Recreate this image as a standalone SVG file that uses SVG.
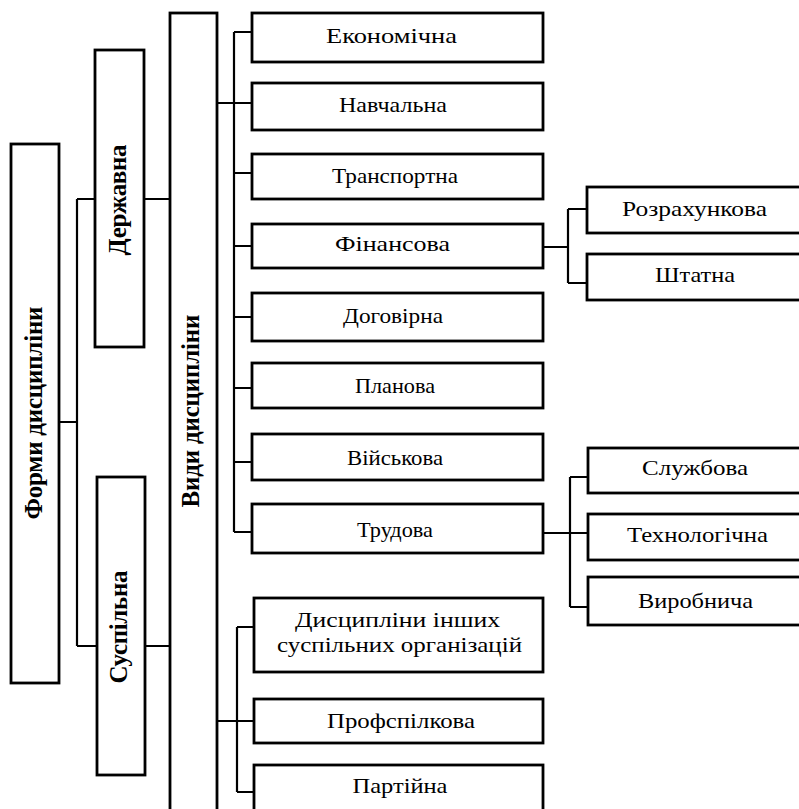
<svg xmlns="http://www.w3.org/2000/svg" width="799" height="809" viewBox="0 0 799 809">
<style>
.box{fill:#fff;stroke:#000;stroke-width:2.8}
.lbl{font-family:"Liberation Serif","Times New Roman",serif;font-size:21px;fill:#000;text-anchor:middle}
.vlbl{font-family:"Liberation Serif","Times New Roman",serif;font-size:25px;font-weight:bold;fill:#000;text-anchor:middle}
.con{fill:none;stroke:#000;stroke-width:2.2}
</style>
<rect width="799" height="809" fill="#fff"/>
<g id="connectors">
<path class="con" d="M59,422H77M77,199V646M77,199H95M77,646H97"/>
<path class="con" d="M144,199H170M145,646H170"/>
<path class="con" d="M217,103H234M234,32V532M234,32H252M234,103H252M234,173H252M234,246H252M234,317H252M234,388H252M234,462H252M234,532H252"/>
<path class="con" d="M217,721H237M237,627V792M237,627H254M237,721H254M237,792H254"/>
<path class="con" d="M543,247H568M568,209V283M568,209H587M568,283H587"/>
<path class="con" d="M543,533H570M570,477V607M570,477H588M570,533H588M570,607H588"/>
</g>
<g id="formy"><rect class="box" x="11" y="144" width="48" height="539"/><text class="vlbl" transform="translate(42,413) rotate(-90)" textLength="213">Форми дисципліни</text></g>
<g id="derzhavna"><rect class="box" x="95" y="50" width="49" height="297"/><text class="vlbl" transform="translate(126,200) rotate(-90)" textLength="111">Державна</text></g>
<g id="suspilna"><rect class="box" x="97" y="477" width="48" height="298"/><text class="vlbl" transform="translate(127,627) rotate(-90)" textLength="113">Суспільна</text></g>
<g id="vydy"><rect class="box" x="170" y="13" width="47" height="810"/><text class="vlbl" transform="translate(199,411) rotate(-90)" textLength="193">Види дисципліни</text></g>
<g id="ekonomichna"><rect class="box" x="252" y="13" width="291" height="49"/><text class="lbl" x="391.5" y="43" textLength="131" lengthAdjust="spacingAndGlyphs">Економічна</text></g>
<g id="navchalna"><rect class="box" x="252" y="83" width="291" height="47"/><text class="lbl" x="393" y="112" textLength="108" lengthAdjust="spacingAndGlyphs">Навчальна</text></g>
<g id="transportna"><rect class="box" x="252" y="154" width="291" height="45"/><text class="lbl" x="395" y="183" textLength="126" lengthAdjust="spacingAndGlyphs">Транспортна</text></g>
<g id="finansova"><rect class="box" x="252" y="224" width="291" height="44"/><text class="lbl" x="392.5" y="251" textLength="115" lengthAdjust="spacingAndGlyphs">Фінансова</text></g>
<g id="dogovirna"><rect class="box" x="252" y="293" width="291" height="48"/><text class="lbl" x="393" y="323" textLength="100" lengthAdjust="spacingAndGlyphs">Договірна</text></g>
<g id="planova"><rect class="box" x="252" y="363" width="291" height="45"/><text class="lbl" x="395" y="393" textLength="80" lengthAdjust="spacingAndGlyphs">Планова</text></g>
<g id="viyskova"><rect class="box" x="252" y="434" width="291" height="46"/><text class="lbl" x="395" y="465" textLength="96" lengthAdjust="spacingAndGlyphs">Військова</text></g>
<g id="trudova"><rect class="box" x="252" y="504" width="291" height="49"/><text class="lbl" x="395" y="537" textLength="76" lengthAdjust="spacingAndGlyphs">Трудова</text></g>
<g id="inshi"><rect class="box" x="254" y="598" width="289" height="74"/><text class="lbl" x="397.5" y="627" textLength="205" lengthAdjust="spacingAndGlyphs">Дисципліни інших</text><text class="lbl" x="399.5" y="652" textLength="245" lengthAdjust="spacingAndGlyphs">суспільних організацій</text></g>
<g id="profspilkova"><rect class="box" x="254" y="699" width="289" height="44"/><text class="lbl" x="401" y="728" textLength="148" lengthAdjust="spacingAndGlyphs">Профспілкова</text></g>
<g id="partiyna"><rect class="box" x="254" y="765" width="289" height="60"/><text class="lbl" x="400" y="793" textLength="95" lengthAdjust="spacingAndGlyphs">Партійна</text></g>
<g id="rozrakhunkova"><rect class="box" x="587" y="187" width="215" height="46"/><text class="lbl" x="694.5" y="216" textLength="145" lengthAdjust="spacingAndGlyphs">Розрахункова</text></g>
<g id="shtatna"><rect class="box" x="587" y="254" width="215" height="46"/><text class="lbl" x="695" y="282" textLength="80" lengthAdjust="spacingAndGlyphs">Штатна</text></g>
<g id="sluzhbova"><rect class="box" x="588" y="448" width="214" height="45"/><text class="lbl" x="695" y="475" textLength="106" lengthAdjust="spacingAndGlyphs">Службова</text></g>
<g id="tekhnologichna"><rect class="box" x="588" y="514" width="214" height="46"/><text class="lbl" x="697.5" y="542" textLength="141" lengthAdjust="spacingAndGlyphs">Технологічна</text></g>
<g id="vyrobnycha"><rect class="box" x="588" y="577" width="214" height="48"/><text class="lbl" x="695.5" y="608" textLength="115" lengthAdjust="spacingAndGlyphs">Виробнича</text></g>
</svg>
